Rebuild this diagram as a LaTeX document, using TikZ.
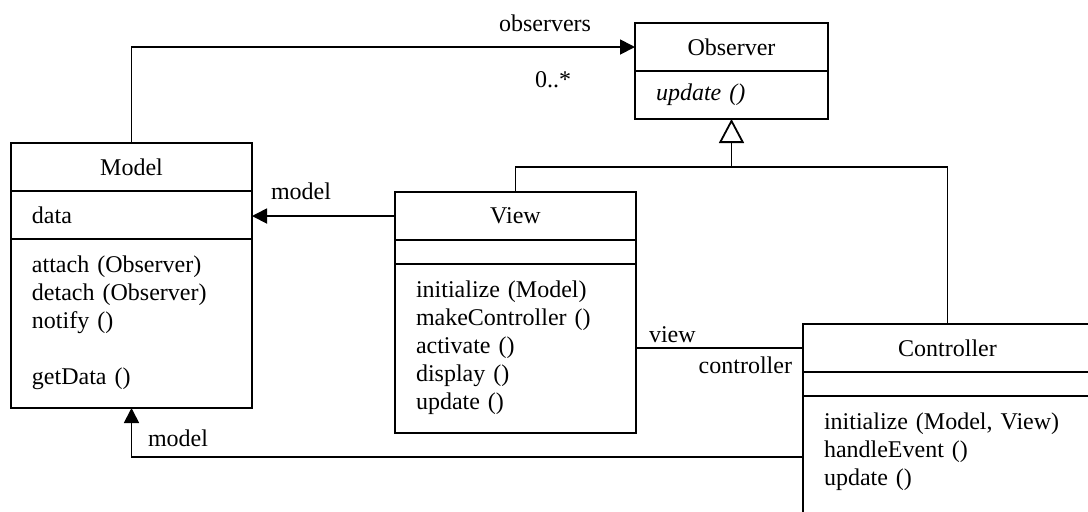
\documentclass[tikz,border=0pt]{standalone}
\usepackage{fontspec}
\setmainfont{Liberation Serif}
\usetikzlibrary{positioning,arrows.meta}
\tikzset{
    class-box/.style = {draw, rectangle, line width=0.9pt, outer sep=0pt, inner xsep=10.5pt, font=\fontsize{12}{14}\selectfont},
    class-title/.style = {class-box, minimum height=24pt, align=center},
    class-attr/.style = {class-box, minimum height=24pt, align=left},
    class-empty/.style = {class-box, minimum height=12pt, inner ysep=0pt},
    class-ops/.style = {class-box, align=left, text height=9pt, text depth=60.5pt, inner ysep=7.5pt},
    role/.style = {inner sep=3.3pt, font=\fontsize{12}{14}\selectfont},
    link/.style = {line width=0.9pt},
    assoc/.style = {link, -{Triangle[length=7.5pt, width=7.5pt]}},
    generalize/.style = {link, -{Triangle[open, length=12pt, width=12.5pt]}},
}

\begin{document}
\begin{tikzpicture}[x=0.5pt, y=-0.5pt]
\useasboundingbox (0,0) rectangle (1088,511);
\clip (0,0) rectangle (1088,511);

\node[class-title, text width=99.5pt, anchor=north west] (model-title) at (11,143) {Model};
\node[class-attr, text width=99.5pt, below=0pt of model-title] (model-data) {data};
\node[class-ops, text width=99.5pt, below=0pt of model-data] (model-ops) {attach (Observer)\\detach (Observer)\\notify ()\\[14pt]getData ()};

\node[class-title, text width=75.5pt, anchor=north west] (observer-title) at (635,23) {Observer};
\node[class-attr, text width=75.5pt, below=0pt of observer-title] (observer-ops) {\textit{update ()}};

\node[class-title, text width=99.5pt, anchor=north west] (view-title) at (395,192) {View};
\node[class-empty, text width=99.5pt, below=0pt of view-title] (view-data) {};
\node[class-ops, text width=99.5pt, below=0pt of view-data] (view-ops) {initialize (Model)\\makeController ()\\activate ()\\display ()\\update ()};

\node[class-title, text width=123.5pt, anchor=north west] (controller-title) at (803,324) {Controller};
\node[class-empty, text width=123.5pt, below=0pt of controller-title] (controller-data) {};
\node[class-ops, text width=123.5pt, below=0pt of controller-data] (controller-ops) {initialize (Model, View)\\handleEvent ()\\update ()};

\draw[assoc] (model-title.north) |- (observer-title.west);
\node[role, above left=4pt and 18.5pt of observer-title.west] (observers-lbl) {observers};
\node[role, below left=9pt and 28.5pt of observer-title.west] (many-lbl) {0..*};

\coordinate[below=24pt of observer-ops.south] (inherit);
\draw[generalize] (inherit) -- (observer-ops.south);
\draw[link] (view-title.north) |- (inherit) -| (controller-title.north);

\draw[assoc] (view-title.west) -- (view-title.west -| model-data.east);
\node[role, above right=4pt and 6pt of model-data.east] (view-model-lbl) {model};

\coordinate (vc) at (view-ops.east |- controller-title.west);
\draw[link] (vc) -- (controller-title.west);
\node[role, above right=-1pt and 3pt of vc] (view-lbl) {view};
\node[role, below left=1pt and 2pt of controller-title.west] (controller-lbl) {controller};

\coordinate[below=30.5pt of controller-ops.north west] (cm);
\draw[assoc] (cm) -| (model-ops.south);
\node[role, below right=7.5pt and 4.75pt of model-ops.south] (controller-model-lbl) {model};
\end{tikzpicture}
\end{document}
